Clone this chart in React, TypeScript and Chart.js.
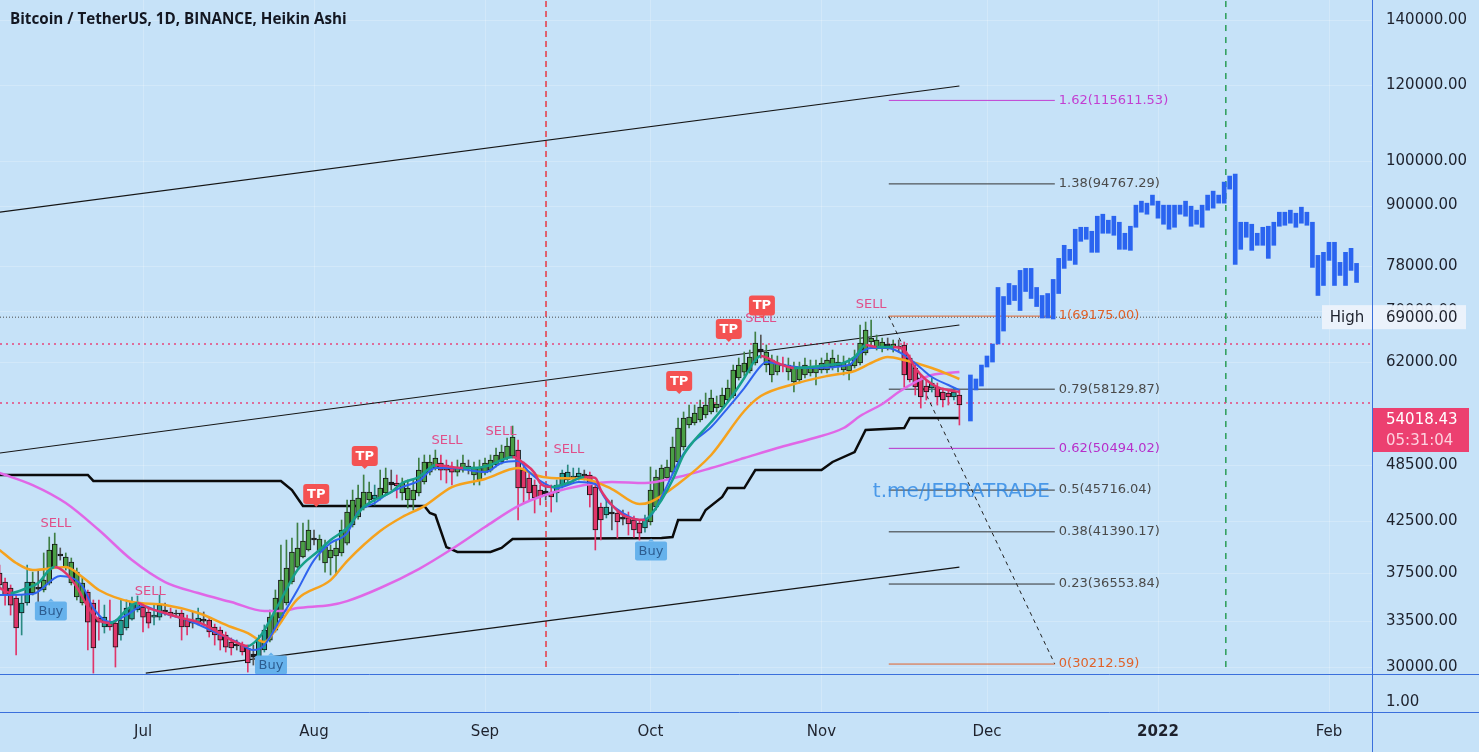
import React, { useEffect, useRef } from "react";
import { Chart, registerables } from "chart.js";

Chart.register(...registerables);

// ---------------- data ----------------
const TITLE = "Bitcoin / TetherUS, 1D, BINANCE, Heikin Ashi";

// day index = days since 2021-07-01
const CANDLE_FIRST_DAY = -26;
const haOpen = [
  37520, 36730, 36210, 35350, 34120, 34940, 35780, 36300, 36040, 36640,
  38060, 39260, 38060, 36640, 35440, 34940, 35870, 34940, 33710, 33000,
  33470, 33310, 32380, 32920, 33630, 34360, 34610, 34200, 33790, 33790,
  34360, 34200, 34120, 34120, 33550, 33470, 33390, 33630, 33550, 33000,
  32760, 32380, 31840, 31690, 31610, 31390, 30940, 30720, 31240, 31990,
  32760, 33710, 34940, 36730, 38060, 38980, 39640, 40790, 39450, 38430,
  38890, 39080, 39360, 40300, 42070, 42880, 43810, 44650, 44750, 44860,
  45400, 46610, 46490, 45400, 44650, 44650, 45400, 46610, 47720, 48180,
  48760, 48530, 48180, 47720, 47950, 48410, 47390, 46830, 47610, 47950,
  48530, 48880, 49340, 49580, 50290, 47950, 47050, 46270, 45720, 45620,
  45510, 45400, 46270, 46830, 47050, 47160, 47500, 47390, 46050, 43910,
  43080, 43390, 43290, 42880, 42780, 42570, 42270, 41770, 42370, 43910,
  44970, 47050, 47720, 48880, 50650, 53380, 53640, 54020, 54660, 55060,
  55580, 55720, 56650, 57190, 59700, 60550, 60700, 61870, 63960, 61570,
  60130, 60560, 61720, 60560, 59130, 59410, 60130, 60410, 60410, 60850,
  60850, 61280, 61430, 60850, 60700, 61430, 61870, 63360, 65040, 64270,
  64120, 64730, 64120, 64420, 64580, 62610, 61140, 59700, 58570, 58290,
  58430, 57740, 57600, 57060, 57330,
];
const haClose = [
  36470, 35610, 34770, 32920, 34940, 36730, 36730, 36120, 36900, 39640,
  40210, 39080, 38980, 38520, 37610, 36640, 33390, 31390, 33390, 33790,
  33000, 31460, 33550, 34520, 35020, 35020, 33790, 33310, 33950, 34770,
  34200, 33950, 34040, 33000, 33000, 33310, 33710, 33470, 32610, 32380,
  31990, 31460, 31390, 31540, 31090, 30290, 30720, 31990, 32760, 33790,
  35350, 36900, 37970, 39450, 39830, 40500, 41570, 40590, 40690, 39920,
  39640, 39830, 41570, 43390, 44650, 44860, 45510, 45510, 45180, 45940,
  47050, 46270, 46160, 46490, 45940, 45720, 47950, 48880, 48880, 49340,
  47950, 47950, 47720, 48300, 48760, 48180, 48300, 48180, 48760, 49110,
  49700, 50050, 50770, 51870, 45940, 45940, 45400, 44860, 44970, 45290,
  44970, 46270, 47610, 47720, 47270, 47610, 47270, 45180, 41570, 42570,
  43910, 43190, 42370, 42670, 42170, 41570, 41270, 42570, 45720, 47160,
  48180, 48300, 50650, 53000, 54280, 54410, 54930, 55720, 55980, 56920,
  56120, 57330, 58290, 60850, 61570, 61870, 62760, 64880, 63510, 63510,
  62310, 61870, 61430, 61570, 61280, 61140, 61570, 61140, 61280, 61870,
  62310, 62610, 62010, 61870, 61570, 62610, 64880, 66920, 65660, 65350,
  65040, 64420, 64730, 64120, 60130, 59410, 58430, 57060, 57740, 58990,
  57060, 56650, 57060, 57740, 55980,
];
const haHigh = [
  38250, 37080, 36470, 35610, 35610, 38250, 37610, 37790, 39360, 40880,
  41270, 39830, 39360, 38890, 37970, 37080, 36040, 35190, 35190, 34770,
  35190, 33550, 35190, 35190, 35440, 35530, 34940, 34520, 34770, 35610,
  34940, 34520, 34360, 34360, 33950, 34200, 34520, 34200, 33790, 33230,
  33000, 32610, 32150, 31990, 31840, 31610, 31610, 32380, 33160, 34360,
  36040, 40110, 40590, 40790, 42270, 42270, 42570, 41570, 41080, 40590,
  40110, 40590, 42570, 44650, 45720, 46270, 47390, 46610, 46270, 47950,
  48180, 47950, 47390, 47050, 46830, 46830, 49340, 49700, 49700, 50290,
  49700, 49110, 48880, 49110, 49700, 49110, 48880, 49110, 49340, 49700,
  50530, 50890, 51750, 53250, 51500, 48880, 47720, 46830, 46270, 46160,
  46270, 46830, 47950, 48530, 48180, 48180, 47950, 47720, 46610, 44330,
  44650, 44650, 43600, 43600, 43390, 42980, 42570, 43080, 48300, 47950,
  48530, 49110, 51870, 54280, 55060, 55980, 55980, 56650, 57600, 58020,
  57190, 58290, 59410, 61570, 62610, 63510, 63810, 66610, 66130, 64580,
  63060, 62910, 62760, 62610, 62010, 62010, 62610, 62310, 62310, 62610,
  63360, 63810, 63060, 62910, 62610, 63810, 67730, 68210, 68540, 66130,
  65660, 65660, 65350, 65350, 65040, 63060, 61570, 60130, 59410, 59700,
  58990, 58290, 58020, 58290, 58020,
];
const haLow = [
  36040, 34770, 33950, 30870, 32380, 34770, 35610, 34610, 35870, 36470,
  37970, 38700, 37790, 36470, 35190, 34770, 31240, 29570, 31990, 32530,
  32760, 30000, 31990, 32760, 33550, 34200, 32610, 32920, 33160, 33550,
  33950, 33710, 33790, 31990, 32380, 32920, 33160, 33160, 32220, 31610,
  31240, 31090, 30870, 31240, 30870, 29640, 30140, 30500, 31090, 31840,
  32610, 33550, 34770, 36560, 37970, 38890, 39540, 40110, 38700, 37610,
  37350, 37350, 39080, 40110, 41870, 42670, 43600, 44120, 44120, 44650,
  45180, 45720, 44860, 44650, 43810, 43600, 45080, 46380, 47390, 47950,
  46830, 46490, 46270, 47270, 47720, 47500, 46270, 46270, 47390, 47720,
  48300, 48640, 49110, 49340, 42570, 44330, 44650, 43290, 44120, 44650,
  43390, 44440, 45940, 46610, 46610, 46830, 46830, 43910, 39640, 40590,
  42780, 41570, 40790, 42070, 41080, 40880, 40590, 41370, 42070, 43600,
  44650, 46830, 47500, 48640, 50290, 53000, 53380, 53760, 54280, 54800,
  55060, 55450, 56380, 56920, 59410, 59980, 60410, 61570, 62610, 60560,
  59130, 60130, 60560, 59410, 57740, 58990, 59700, 59980, 58710, 60410,
  60410, 60850, 60560, 60130, 59410, 61140, 61570, 63060, 64580, 63810,
  63510, 63810, 63510, 63510, 58430, 59130, 57330, 55580, 56650, 57740,
  55980, 55720, 55980, 56650, 53380,
];
// candle colour state, ten days per group: g = green, t = teal, r = red, k = doji
const candleToneGroups = [
  "rrrrttgkgg", "gkggggrrrt", "rrttttrrtt", "krkrrktkrr", "rrrkrrkttg",
  "gggggggkgg", "ggggggggtg", "gkrggggggg", "rrrggkgggg", "ggggrrrrrk",
  "rtttttkrrr", "tkrkrrrtgg", "gggggggggg", "ggggggggkg", "ggrggggggg",
  "gggggggggg", "gkgkrrrrrt", "rrrtr",
];

// projected bars (blue)
const PROJ_FIRST_DAY = 150;
const projHigh = [
  60130, 59560, 61570, 62910, 64730, 74060, 72480, 74770, 74410, 77130,
  77500, 77500, 74060, 72660, 73000, 75490, 79370, 81880, 81100, 85070,
  85470, 85470, 84660, 87750, 88170, 86920, 87750, 86500, 84260, 85680,
  90090, 90950, 90520, 92270, 90950, 90090, 90090, 90090, 90090, 90950,
  89870, 89020, 90090, 92270, 93150, 92270, 95180, 96550, 97010, 86500,
  86500, 86090, 84260, 85470, 85680, 86500, 88590, 88590, 89020, 88380,
  89660, 88590, 86500, 79940, 80520, 82470, 82470, 78620, 80520, 81290,
  78430,
];
const projLow = [
  53890, 58020, 58570, 61280, 62010, 64730, 66760, 71110, 71790, 70100,
  73350, 72140, 70770, 68860, 68860, 68700, 73000, 77500, 78990, 78240,
  82660, 83060, 80520, 80520, 84260, 84260, 83860, 81100, 81100, 80900,
  85470, 88590, 88170, 90090, 87340, 86090, 85070, 85470, 88170, 87750,
  85680, 86090, 85470, 89020, 89450, 90520, 90520, 93600, 78240, 81100,
  83460, 80900, 81880, 81880, 79370, 81880, 85680, 85880, 86300, 85470,
  86300, 85880, 77680, 72660, 74410, 78990, 74410, 76210, 74410, 77130,
  74950,
];

// moving averages (read at sample days)
const magentaDays = [-26, -20, -14, -8, -2, 4, 10, 16, 22, 25, 28, 34, 37, 43, 50, 56, 62, 68, 74, 80, 85, 91, 97, 103, 109, 115, 121, 127, 130, 134, 137, 140, 143, 148];
const magentaVals = [47610, 46270, 44330, 41570, 38700, 36730, 35780, 35020, 34280, 34280, 34520, 34770, 35100, 36210, 37880, 39730, 41870, 44010, 45400, 46270, 46610, 46490, 47160, 48180, 49340, 50530, 51630, 53000, 54530, 56120, 57740, 59130, 60130, 60560];

const orangeDays = [-26, -23, -20, -14, -11, -8, -2, 4, 10, 16, 19, 22, 24, 28, 34, 37, 43, 47, 51, 56, 62, 68, 71, 74, 80, 85, 90, 92, 97, 103, 109, 112, 118, 124, 129, 132, 135, 138, 143, 148];
const orangeVals = [39640, 38430, 37790, 38060, 37170, 36040, 35020, 34770, 34120, 33000, 32530, 31840, 32760, 35270, 36900, 38610, 41470, 42880, 44010, 46050, 46940, 48180, 47390, 47050, 46940, 45830, 44220, 44440, 46380, 49700, 55190, 57190, 58850, 59980, 60700, 61870, 62760, 62310, 61140, 59560];

const fastDays = [-26, -24, -21, -19, -17, -16, -14, -12, -10, -8, -6, -5, -3, -1, 1, 4, 7, 10, 13, 16, 19, 21, 22, 25, 28, 32, 34, 37, 40, 42, 45, 47, 50, 52, 53, 56, 58, 60, 63, 65, 67, 69, 71, 72, 74, 77, 80, 82, 83, 85, 87, 89, 91, 92, 94, 96, 98, 100, 103, 106, 109, 111, 112, 115, 118, 121, 124, 127, 129, 131, 133, 136, 138, 139, 140, 142, 144, 146, 148];
const fastVals = [36210, 35780, 36210, 36640, 37790, 38060, 37520, 36300, 34610, 33550, 33310, 33470, 34360, 34940, 34520, 34120, 33710, 33390, 32760, 31990, 31540, 32150, 32760, 35190, 37790, 39640, 40590, 41770, 43910, 44650, 45510, 46490, 47160, 48180, 48530, 48300, 48180, 48180, 48530, 49110, 49460, 48760, 47610, 46490, 46050, 46490, 47160, 47050, 45720, 44120, 43080, 42670, 42570, 43080, 44650, 46830, 49700, 51500, 53760, 56380, 59700, 62310, 62910, 61870, 61140, 61280, 61570, 61870, 62760, 64580, 64270, 64270, 63810, 62610, 61140, 59410, 58430, 58020, 57740];

const blueDays = [-26, -20, -15, -11, -9, -6, -3, 0, 3, 8, 13, 17, 20, 22, 25, 28, 31, 34, 37, 39, 42, 44, 47, 50, 53, 56, 62, 65, 68, 70, 72, 75, 79, 82, 84, 87, 90, 92, 94, 97, 99, 103, 106, 109, 112, 113, 116, 121, 128, 130, 132, 135, 138, 141, 143, 146, 148];
const blueVals = [35610, 35690, 37260, 36380, 34520, 33390, 33950, 34690, 34200, 33550, 32610, 31840, 31240, 31610, 33710, 36040, 38700, 40300, 41270, 43390, 44330, 45180, 46050, 46720, 48180, 48180, 47720, 48760, 48990, 47720, 46720, 45940, 46610, 46380, 44650, 43290, 42570, 42980, 44970, 48760, 50770, 53120, 55580, 58290, 61430, 62010, 61570, 61140, 61570, 63360, 64120, 64120, 63060, 61140, 59840, 58710, 58020];

const stepDays = [-26, -10, -9, 25, 27, 29, 51, 52, 53, 55, 57, 63, 65, 67, 94, 96, 97, 101, 102, 105, 106, 109, 111, 123, 125, 129, 131, 138, 139, 148];
const stepVals = [47390, 47390, 46720, 46720, 45720, 44010, 44010, 43290, 43080, 39920, 39450, 39450, 39830, 40690, 40790, 40880, 42570, 42570, 43600, 44970, 45940, 45940, 47950, 47950, 48880, 50050, 52750, 53000, 54280, 54280];

// channel trend lines
const upperDays = [-26, 148];
const upperVals = [88590, 119640];
const midDays = [-26, 148];
const midVals = [49930, 67725];
const lowerDays = [0.5, 148];
const lowerVals = [29570, 38060];

// fibonacci tool
const FIB_START_DAY = 135.2;
const FIB_END_DAY = 165.3;
const fibRatios = ["1.62", "1.38", "1", "0.79", "0.62", "0.5", "0.38", "0.23", "0"];
const fibPrices = [115611.53, 94767.29, 69175.0, 58129.87, 50494.02, 45716.04, 41390.17, 36553.84, 30212.59];

// signals
const sellDays = [-15.8, 1.3, 55.1, 64.9, 77.2, 112.0, 132.0];
const sellPrices = [42170, 35870, 51380, 52500, 50290, 68700, 71110];
const tpDays = [31.4, 40.2, 97.2, 106.2, 112.2];
const tpPrices = [45290, 49580, 59270, 67080, 70940];
const buyDays = [-16.7, 23.2, 92.1];
const buyPrices = [34280, 30140, 39540];

// axes
const priceTicks = [30000, 33500, 37500, 42500, 48500, 62000, 70000, 78000, 90000, 100000, 120000, 140000];
const monthTickDays = [0, 31, 62, 92, 123, 153, 184, 215];
const monthTickLabels = ["Jul", "Aug", "Sep", "Oct", "Nov", "Dec", "2022", "Feb"];
const YEAR_TICK_DAY = 184;

const HIGH_PRICE = 69000;
const HIGH_LINE_END_DAY = 213.7;
const LAST_PRICE = 54018.43;
const COUNTDOWN = "05:31:04";
const pinkLevels = [64730, 56250];
const RED_VLINE_DAY = 73.06;
const GREEN_VLINE_DAY = 196.3;
const VLINE_BOTTOM = 30000;
const WATERMARK = "t.me/JEBRATRADE";
const WATERMARK_DAY = 132.3;
const WATERMARK_PRICE = 45500;

// ---------------- layout / style ----------------
const W = 1479;
const H = 752;
const PRICE_AXIS_W = 107;
const TIME_AXIS_H = 78;
const LOWER_PANE_H = 38;
const X_MIN = -25.925;
const X_MAX = 222.8;
const Y_MIN = 29506;
const Y_MAX = 146828;

const BG = "#c6e2f8";
const GRID = "rgba(255,255,255,0.22)";
const PANE_LINE = "#3a6fdc";
const AXIS_TEXT = "#1e222d";
const AXIS_FONT = "'DejaVu Sans'";
const GREEN = "#4a9f45";
const TEAL = "#22a196";
const RED = "#e0356a";
const DOJI = "#222222";
const PROJ = "#2a64f0";
const FAST_UP = "#17a08a";
const FAST_DOWN = "#e0356a";
const fibLineColors = ["#c23fd2", "#333333", "#e0622a", "#333333", "#b72fc9", "#333333", "#333333", "#333333", "#e0622a"];
const fibTextColors = ["#c23fd2", "#4a4a4a", "#e0622a", "#4a4a4a", "#b72fc9", "#4a4a4a", "#4a4a4a", "#4a4a4a", "#e0622a"];

const toneBody = (t: string) => (t === "g" ? GREEN : t === "t" ? TEAL : t === "r" ? RED : DOJI);
const toneWick = (t: string) => (t === "g" ? "#3f7f45" : t === "t" ? "#2a8a82" : t === "r" ? "#e0356a" : "#555555");

const pts = (days: number[], vals: number[]) => days.map((d, i) => ({ x: d, y: vals[i] }));

function roundRect(ctx: CanvasRenderingContext2D, x: number, y: number, w: number, h: number, r: number) {
  ctx.beginPath();
  ctx.moveTo(x + r, y);
  ctx.arcTo(x + w, y, x + w, y + h, r);
  ctx.arcTo(x + w, y + h, x, y + h, r);
  ctx.arcTo(x, y + h, x, y, r);
  ctx.arcTo(x, y, x + w, y, r);
  ctx.closePath();
}

const backgroundPlugin = {
  id: "bgPlugin",
  beforeDraw(chart: any) {
    const { ctx } = chart;
    ctx.save();
    ctx.fillStyle = BG;
    ctx.fillRect(0, 0, chart.width, chart.height);
    ctx.restore();
  },
  beforeDatasetsDraw(chart: any) {
    const { ctx, chartArea } = chart;
    const xs = chart.scales.x;
    const ys = chart.scales.y;
    ctx.save();
    ctx.strokeStyle = GRID;
    ctx.lineWidth = 1;
    ctx.beginPath();
    monthTickDays.forEach((d) => {
      const x = Math.round(xs.getPixelForValue(d)) + 0.5;
      ctx.moveTo(x, 0);
      ctx.lineTo(x, chartArea.bottom + LOWER_PANE_H);
    });
    priceTicks.forEach((p) => {
      const y = Math.round(ys.getPixelForValue(p)) + 0.5;
      ctx.moveTo(0, y);
      ctx.lineTo(chartArea.right, y);
    });
    ctx.stroke();
    ctx.restore();
  },
};

const overlayPlugin = {
  id: "overlayPlugin",
  afterDatasetsDraw(chart: any) {
    const { ctx } = chart;
    const xs = chart.scales.x;
    const ys = chart.scales.y;
    ctx.save();

    // fib labels
    ctx.font = `13px ${AXIS_FONT}`;
    ctx.textAlign = "left";
    ctx.textBaseline = "middle";
    const fx = xs.getPixelForValue(FIB_END_DAY) + 4;
    fibPrices.forEach((p, i) => {
      ctx.fillStyle = fibTextColors[i];
      ctx.fillText(`${fibRatios[i]}(${p.toFixed(2)})`, fx, ys.getPixelForValue(p));
    });

    // watermark
    ctx.font = `20px ${AXIS_FONT}`;
    ctx.fillStyle = "rgba(38,132,228,0.78)";
    ctx.fillText(WATERMARK, xs.getPixelForValue(WATERMARK_DAY), ys.getPixelForValue(WATERMARK_PRICE));

    // SELL texts
    ctx.font = `13px ${AXIS_FONT}`;
    ctx.textAlign = "center";
    ctx.fillStyle = "#e04f8a";
    sellDays.forEach((d, i) => {
      ctx.fillText("SELL", xs.getPixelForValue(d), ys.getPixelForValue(sellPrices[i]));
    });

    // TP boxes
    tpDays.forEach((d, i) => {
      const cx = xs.getPixelForValue(d);
      const cy = ys.getPixelForValue(tpPrices[i]);
      ctx.fillStyle = "#f45252";
      roundRect(ctx, cx - 13, cy - 10, 26, 20, 3);
      ctx.fill();
      ctx.beginPath();
      ctx.moveTo(cx - 3, cy + 10);
      ctx.lineTo(cx + 3, cy + 10);
      ctx.lineTo(cx, cy + 13);
      ctx.closePath();
      ctx.fill();
      ctx.fillStyle = "#ffffff";
      ctx.font = `bold 13px ${AXIS_FONT}`;
      ctx.fillText("TP", cx, cy + 0.5);
    });

    // Buy boxes
    buyDays.forEach((d, i) => {
      const cx = xs.getPixelForValue(d);
      const cy = ys.getPixelForValue(buyPrices[i]);
      ctx.fillStyle = "#66b2ec";
      roundRect(ctx, cx - 16, cy - 9.5, 32, 19, 2);
      ctx.fill();
      ctx.beginPath();
      ctx.moveTo(cx - 3, cy - 9.5);
      ctx.lineTo(cx + 3, cy - 9.5);
      ctx.lineTo(cx, cy - 12.5);
      ctx.closePath();
      ctx.fill();
      ctx.fillStyle = "#2d5d90";
      ctx.font = `13px ${AXIS_FONT}`;
      ctx.fillText("Buy", cx, cy + 0.5);
    });
    ctx.restore();
  },
  afterDraw(chart: any) {
    const { ctx, chartArea } = chart;
    const ys = chart.scales.y;
    const right = chartArea.right;
    const bottom = chartArea.bottom;
    ctx.save();

    // pane separators
    ctx.strokeStyle = PANE_LINE;
    ctx.lineWidth = 1;
    ctx.beginPath();
    ctx.moveTo(0, bottom + 0.5);
    ctx.lineTo(W, bottom + 0.5);
    ctx.moveTo(0, bottom + LOWER_PANE_H + 0.5);
    ctx.lineTo(W, bottom + LOWER_PANE_H + 0.5);
    ctx.moveTo(right + 0.5, 0);
    ctx.lineTo(right + 0.5, H);
    ctx.stroke();

    // lower pane value
    ctx.font = `15px ${AXIS_FONT}`;
    ctx.textAlign = "left";
    ctx.textBaseline = "middle";
    ctx.fillStyle = AXIS_TEXT;
    ctx.fillText("1.00", right + 14, bottom + 28);

    // High label
    const hy = ys.getPixelForValue(HIGH_PRICE);
    ctx.fillStyle = "rgba(236,243,251,0.96)";
    ctx.fillRect(right - 50, hy - 12, 50, 24);
    ctx.fillRect(right + 1, hy - 12, 93, 24);
    ctx.fillStyle = AXIS_TEXT;
    ctx.textAlign = "center";
    ctx.fillText("High", right - 25, hy + 1);
    ctx.textAlign = "left";
    ctx.fillText(HIGH_PRICE.toFixed(2), right + 14, hy + 1);

    // last price label
    const ly = ys.getPixelForValue(LAST_PRICE);
    ctx.fillStyle = "#ec4070";
    ctx.fillRect(right + 1, ly - 12, 96, 44);
    ctx.fillStyle = "#ffffff";
    ctx.fillText(LAST_PRICE.toFixed(2), right + 14, ly);
    ctx.fillStyle = "rgba(255,235,242,0.85)";
    ctx.fillText(COUNTDOWN, right + 14, ly + 21);

    // title
    ctx.font = `bold 20px 'Open Sans'`;
    const w20 = ctx.measureText(TITLE).width;
    const size = (20 * 337) / w20;
    ctx.font = `bold ${size.toFixed(2)}px 'Open Sans'`;
    ctx.fillStyle = "#131722";
    ctx.textAlign = "left";
    ctx.fillText(TITLE, 10, 20);
    ctx.restore();
  },
};

export default function App() {
  const ref = useRef<HTMLCanvasElement | null>(null);

  useEffect(() => {
    document.body.style.margin = "0";
    const canvas = ref.current;
    if (!canvas) return;

    const candleDays = haOpen.map((_, i) => CANDLE_FIRST_DAY + i);
    const tones = candleToneGroups.join("").split("");
    const projDays = projHigh.map((_, i) => PROJ_FIRST_DAY + i);

    const line = (extra: any) => ({
      type: "line",
      pointRadius: 0,
      pointHoverRadius: 0,
      fill: false,
      tension: 0,
      clip: 0,
      ...extra,
    });

    const datasets: any[] = [
      line({ data: pts(fastDays, fastVals), borderWidth: 2.5, cubicInterpolationMode: "monotone", order: 1,
        segment: { borderColor: (c: any) => (c.p1.parsed.y >= c.p0.parsed.y ? FAST_UP : FAST_DOWN) }, borderColor: FAST_UP }),
      line({ data: pts(blueDays, blueVals), borderWidth: 2, borderColor: "#2f63ee", cubicInterpolationMode: "monotone", order: 2 }),
      line({ data: pts(orangeDays, orangeVals), borderWidth: 2.5, borderColor: "#f5a21e", cubicInterpolationMode: "monotone", order: 3 }),
      line({ data: pts(magentaDays, magentaVals), borderWidth: 2.5, borderColor: "#e067e6", cubicInterpolationMode: "monotone", order: 4 }),
      {
        type: "bar",
        data: candleDays.map((d, i) => ({ x: d, y: [Math.min(haOpen[i], haClose[i]), Math.max(haOpen[i], haClose[i])] })),
        backgroundColor: tones.map(toneBody),
        borderColor: "#161616",
        borderWidth: 1,
        borderSkipped: false,
        barThickness: 5,
        grouped: false,
        order: 5,
      },
      {
        type: "bar",
        data: projDays.map((d, i) => ({ x: d, y: [projLow[i], projHigh[i]] })),
        backgroundColor: PROJ,
        borderWidth: 0,
        barThickness: 4,
        grouped: false,
        order: 5,
      },
      {
        type: "bar",
        data: candleDays.map((d, i) => ({ x: d, y: [haLow[i], haHigh[i]] })),
        backgroundColor: tones.map(toneWick),
        borderWidth: 0,
        barThickness: 1,
        grouped: false,
        order: 6,
      },
      line({ data: pts(stepDays, stepVals), borderWidth: 2.5, borderColor: "#0b0b0b", order: 7 }),
      line({ data: pts(upperDays, upperVals), borderWidth: 1.2, borderColor: "#151515", order: 8 }),
      line({ data: pts(midDays, midVals), borderWidth: 1.2, borderColor: "#151515", order: 8 }),
      line({ data: pts(lowerDays, lowerVals), borderWidth: 1.2, borderColor: "#151515", order: 8 }),
      ...fibPrices.map((p, i) =>
        line({ data: [{ x: FIB_START_DAY, y: p }, { x: FIB_END_DAY, y: p }], borderWidth: 1, borderColor: fibLineColors[i], order: 9 })
      ),
      line({ data: [{ x: FIB_START_DAY, y: fibPrices[2] }, { x: FIB_END_DAY, y: fibPrices[8] }], borderWidth: 1, borderColor: "#222222", borderDash: [4, 4], order: 9 }),
      ...pinkLevels.map((p) =>
        line({ data: [{ x: X_MIN, y: p }, { x: X_MAX, y: p }], borderWidth: 1.5, borderColor: "#e8457a", borderDash: [2, 4], order: 9 })
      ),
      line({ data: [{ x: X_MIN, y: HIGH_PRICE }, { x: HIGH_LINE_END_DAY, y: HIGH_PRICE }], borderWidth: 1, borderColor: "#4a4a4a", borderDash: [1, 2], order: 9 }),
      line({ data: [{ x: RED_VLINE_DAY, y: VLINE_BOTTOM }, { x: RED_VLINE_DAY, y: Y_MAX }], borderWidth: 1.5, borderColor: "#e53945", borderDash: [6, 4], order: 9 }),
      line({ data: [{ x: GREEN_VLINE_DAY, y: VLINE_BOTTOM }, { x: GREEN_VLINE_DAY, y: Y_MAX }], borderWidth: 1.5, borderColor: "#2a9d57", borderDash: [6, 6], order: 9 }),
    ];

    const chart = new Chart(canvas, {
      type: "bar",
      data: { datasets },
      options: {
        animation: false,
        responsive: false,
        maintainAspectRatio: false,
        devicePixelRatio: 1,
        events: [],
        layout: { padding: 0 },
        plugins: { legend: { display: false }, tooltip: { enabled: false } },
        scales: {
          x: {
            type: "linear",
            min: X_MIN,
            max: X_MAX,
            bounds: "data",
            offset: false,
            grid: { display: false, drawTicks: false },
            border: { display: false },
            afterBuildTicks: (s: any) => {
              s.ticks = monthTickDays.map((v) => ({ value: v }));
            },
            afterFit: (s: any) => {
              s.height = TIME_AXIS_H;
              s.paddingLeft = 0;
              s.paddingRight = 0;
            },
            ticks: {
              autoSkip: false,
              maxRotation: 0,
              minRotation: 0,
              padding: 49,
              color: AXIS_TEXT,
              font: (c: any) => ({ family: "DejaVu Sans", size: 15, weight: c.tick && c.tick.value === YEAR_TICK_DAY ? "bold" : "normal" }),
              callback: (_v: any, i: number) => monthTickLabels[i] ?? "",
            },
          },
          y: {
            type: "logarithmic",
            position: "right",
            min: Y_MIN,
            max: Y_MAX,
            bounds: "data",
            grid: { display: false, drawTicks: false },
            border: { display: false },
            afterBuildTicks: (s: any) => {
              s.ticks = priceTicks.map((v) => ({ value: v }));
            },
            afterFit: (s: any) => {
              s.width = PRICE_AXIS_W;
              s.paddingTop = 0;
              s.paddingBottom = 0;
            },
            ticks: {
              autoSkip: false,
              padding: 14,
              color: AXIS_TEXT,
              font: { family: "DejaVu Sans", size: 15 },
              callback: (v: any) => Number(v).toFixed(2),
            },
          },
        },
      } as any,
      plugins: [backgroundPlugin, overlayPlugin],
    } as any);

    return () => chart.destroy();
  }, []);

  return <canvas ref={ref} width={W} height={H} style={{ display: "block", width: W, height: H }} />;
}
